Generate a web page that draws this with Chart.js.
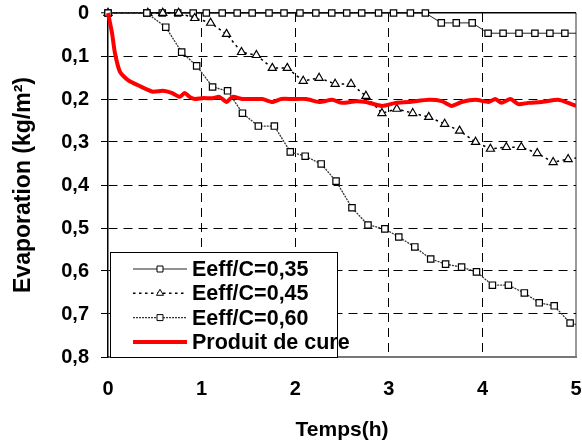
<!DOCTYPE html>
<html>
<head>
<meta charset="utf-8">
<script src="https://cdn.jsdelivr.net/npm/chart.js@4.4.1/dist/chart.umd.min.js"></script>
<style>
  html, body { margin: 0; padding: 0; background: #fff; }
</style>
</head>
<body>
<canvas id="chart-evaporation" width="582" height="446"></canvas>
<script>
const FONT = '"Liberation Sans", Arial, sans-serif';

// series names (legend order)
const seriesNames = ["Eeff/C=0,35", "Eeff/C=0,45", "Eeff/C=0,60", "Produit de cure"];

// Eeff/C = 0,35
const timeA = [0, 0.415, 0.58, 0.745, 0.91, 1.05, 1.22, 1.38, 1.54, 1.72, 1.88, 2.05, 2.22, 2.39, 2.55,
  2.71, 2.89, 3.05, 3.23, 3.39, 3.56, 3.72, 3.89, 4.06, 4.22, 4.39, 4.56, 4.72, 4.88, 5.05];
const evapA = [0, 0, 0, 0, 0, 0, 0, 0, 0, 0, 0, 0, 0, 0, 0,
  0, 0, 0, 0, 0, 0.023, 0.023, 0.023, 0.047, 0.047, 0.047, 0.047, 0.047, 0.047, 0.047];

// Eeff/C = 0,45
const timeB = [0, 0.426, 0.585, 0.755, 0.926, 1.096, 1.266, 1.426, 1.585, 1.755, 1.915, 2.085, 2.255, 2.426, 2.596,
  2.755, 2.926, 3.085, 3.255, 3.426, 3.596, 3.755, 3.926, 4.085, 4.255, 4.415, 4.585, 4.755, 4.915, 5.08];
const evapB = [0, 0, 0, 0, 0.012, 0.023, 0.049, 0.091, 0.098, 0.128, 0.128, 0.158, 0.151, 0.165, 0.165,
  0.193, 0.233, 0.223, 0.233, 0.242, 0.258, 0.274, 0.3, 0.316, 0.312, 0.312, 0.326, 0.347, 0.34, 0.335];

// Eeff/C = 0,60
const timeC = [0, 0.415, 0.617, 0.787, 0.947, 1.117, 1.277, 1.436, 1.606, 1.777, 1.947, 2.106, 2.277, 2.436, 2.606,
  2.777, 2.957, 3.106, 3.277, 3.447, 3.606, 3.777, 3.936, 4.106, 4.277, 4.447, 4.606, 4.766, 4.936, 5.1];
const evapC = [0, 0, 0.033, 0.091, 0.123, 0.172, 0.181, 0.233, 0.263, 0.263, 0.323, 0.333, 0.351, 0.391, 0.453,
  0.493, 0.502, 0.521, 0.544, 0.572, 0.584, 0.591, 0.602, 0.633, 0.633, 0.651, 0.674, 0.681, 0.721, 0.73];

// Produit de cure
const timeR = [0, 0.043, 0.074, 0.128, 0.213, 0.34, 0.479, 0.585, 0.68, 0.766, 0.819, 0.872, 0.926, 1.01, 1.117,
  1.19, 1.266, 1.33, 1.436, 1.543, 1.649, 1.755, 1.851, 1.968, 2.117, 2.255, 2.394, 2.5, 2.649, 2.755,
  2.926, 3.074, 3.213, 3.426, 3.564, 3.67, 3.777, 3.926, 4.064, 4.138, 4.202, 4.298, 4.383, 4.489, 4.628,
  4.809, 4.915, 5.0];
const evapR = [0, 0.047, 0.093, 0.137, 0.156, 0.17, 0.183, 0.181, 0.186, 0.195, 0.186, 0.195, 0.2, 0.198, 0.198,
  0.195, 0.207, 0.195, 0.2, 0.2, 0.2, 0.207, 0.2, 0.2, 0.2, 0.207, 0.202, 0.209, 0.205, 0.207,
  0.216, 0.209, 0.207, 0.202, 0.205, 0.216, 0.207, 0.202, 0.207, 0.2, 0.209, 0.2, 0.212, 0.209, 0.207,
  0.202, 0.209, 0.216];

const xTickLabels = ["0", "1", "2", "3", "4", "5"];
const yTickLabels = ["0", "0,1", "0,2", "0,3", "0,4", "0,5", "0,6", "0,7", "0,8"];

const pts = (t, v) => t.map((x, i) => ({ x, y: v[i] }));
const clipTop = { left: 10, top: 10, right: 0, bottom: 10 };

// legend drawn inside the plot, bottom-left, over the data
const insideLegend = {
  id: "insideLegend",
  afterDatasetsDraw(chart) {
    const { ctx, chartArea } = chart;
    const x0 = chartArea.left + 2, y0 = 252;
    const w = 227, h = chartArea.bottom - y0;
    ctx.save();
    ctx.fillStyle = "#fff";
    ctx.fillRect(x0, y0, w, h);
    ctx.strokeStyle = "#000";
    ctx.lineWidth = 1;
    ctx.strokeRect(x0 + 0.5, y0 + 0.5, w, h);

    chart.data.datasets.forEach((ds, i) => {
      const y = 269 + i * 24.3;
      ctx.setLineDash(ds.borderDash || []);
      ctx.strokeStyle = ds.borderColor;
      ctx.lineWidth = ds.borderWidth;
      ctx.beginPath();
      ctx.moveTo(133, y);
      ctx.lineTo(187, y);
      ctx.stroke();
      ctx.setLineDash([]);
      if (ds.pointRadius > 0) {
        ctx.fillStyle = "#fff";
        ctx.strokeStyle = "#000";
        ctx.lineWidth = 1;
        ctx.beginPath();
        if (ds.pointStyle === "triangle") {
          ctx.moveTo(160, y - 4);
          ctx.lineTo(163.5, y + 2);
          ctx.lineTo(156.5, y + 2);
          ctx.closePath();
        } else {
          ctx.rect(157, y - 3, 6, 6);
        }
        ctx.fill();
        ctx.stroke();
      }
      ctx.fillStyle = "#000";
      ctx.font = "bold 21.5px " + FONT;
      ctx.textBaseline = "middle";
      ctx.fillText(seriesNames[i], 192, y + 1);
    });
    ctx.restore();
  },
};

new Chart(document.getElementById("chart-evaporation"), {
  type: "line",
  data: {
    datasets: [
      {
        label: seriesNames[0],
        data: pts(timeA, evapA),
        borderColor: "#222",
        borderWidth: 1,
        pointStyle: "rect",
        pointRadius: 4.5,
        pointBackgroundColor: "#fff",
        pointBorderColor: "#000",
        pointBorderWidth: 1.2,
        clip: clipTop,
        order: 3,
      },
      {
        label: seriesNames[1],
        data: pts(timeB, evapB),
        borderColor: "#000",
        borderWidth: 1.5,
        borderDash: [2.5, 3.5],
        pointStyle: "triangle",
        pointRadius: 4.7,
        pointBackgroundColor: "#fff",
        pointBorderColor: "#000",
        pointBorderWidth: 1.2,
        clip: clipTop,
        order: 2,
      },
      {
        label: seriesNames[2],
        data: pts(timeC, evapC),
        borderColor: "#333",
        borderWidth: 1.3,
        borderDash: [2, 1],
        pointStyle: "rect",
        pointRadius: 4.5,
        pointBackgroundColor: "#fff",
        pointBorderColor: "#000",
        pointBorderWidth: 1.2,
        clip: clipTop,
        order: 1,
      },
      {
        label: seriesNames[3],
        data: pts(timeR, evapR),
        borderColor: "#ff0000",
        borderWidth: 4,
        pointRadius: 0,
        tension: 0.2,
        clip: clipTop,
        order: 0,
      },
    ],
  },
  options: {
    responsive: false,
    animation: false,
    devicePixelRatio: 1,
    layout: { padding: { top: 13, right: 4, left: 0, bottom: 0 } },
    plugins: { legend: { display: false }, tooltip: { enabled: false } },
    scales: {
      x: {
        type: "linear",
        min: 0,
        max: 5,
        afterFit: (s) => { s.height = 89; s.paddingLeft = 0; s.paddingRight = 0; },
        ticks: {
          stepSize: 1,
          padding: 20,
          color: "#000",
          font: { family: FONT, size: 20, weight: "bold" },
          callback: (v) => xTickLabels[Math.round(v)],
        },
        grid: {
          drawTicks: false,
          color: (c) => (c.tick.value === 0 ? "rgba(0,0,0,0)" : c.tick.value === 5 ? "#999" : "#000"),
          lineWidth: (c) => (c.tick.value === 5 ? 2 : 1),
        },
        border: {
          color: "#777",
          width: 2,
          dash: (c) => (c.tick && c.tick.value > 0 && c.tick.value < 5 ? [9, 6] : []),
        },
        title: {
          display: true,
          text: "Temps(h)",
          color: "#000",
          font: { family: FONT, size: 21, weight: "bold" },
          padding: { top: 0, bottom: 3 },
        },
      },
      y: {
        type: "linear",
        reverse: true,
        min: 0,
        max: 0.8,
        afterFit: (s) => { s.width = 108; s.paddingTop = 0; s.paddingBottom = 0; },
        ticks: {
          stepSize: 0.1,
          padding: 12,
          color: "#000",
          font: { family: FONT, size: 20, weight: "bold" },
          callback: (v) => yTickLabels[Math.round(v * 10)],
        },
        grid: {
          color: (c) => (c.tick.value === 0 ? "#000" : Math.round(c.tick.value * 10) === 8 ? "rgba(0,0,0,0)" : "#000"),
          lineWidth: (c) => (c.tick.value === 0 ? 1.5 : 1),
          tickColor: "#000",
          tickLength: 7,
          tickWidth: 1,
        },
        border: {
          color: "#000",
          width: 1.5,
          dash: (c) => (c.tick && c.tick.value !== 0 ? [9, 6] : []),
        },
        title: {
          display: true,
          text: "Evaporation (kg/m²)",
          color: "#000",
          font: { family: FONT, size: 23, weight: "bold" },
          padding: { top: 10, bottom: 0 },
        },
      },
    },
  },
  plugins: [insideLegend],
});
</script>
</body>
</html>
